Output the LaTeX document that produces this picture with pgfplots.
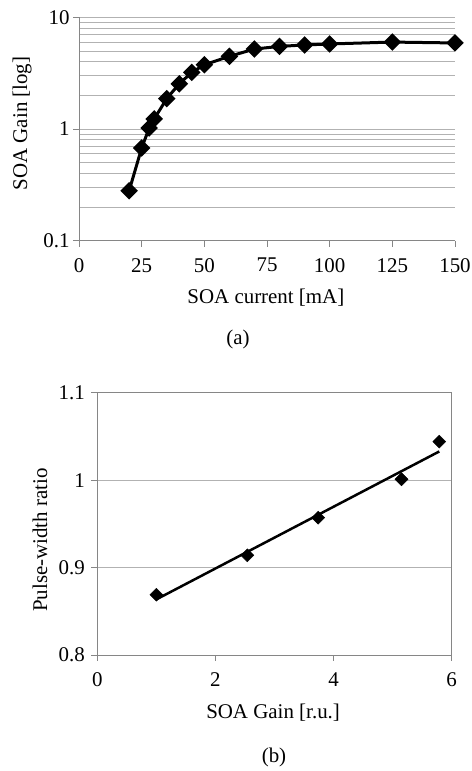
\documentclass[border=0pt]{standalone}
\usepackage{fontspec}
\setmainfont{Liberation Serif}
\usepackage{pgfplots}
\usepackage{pgfplotstable}
\pgfplotsset{compat=1.18}

\definecolor{gridgray}{RGB}{178,178,178}
\definecolor{axisgray}{RGB}{134,134,134}

\pgfplotstableread{
x y
20 0.28
25 0.676
28 1.02
30 1.23
35 1.87
40 2.54
45 3.21
50 3.76
60 4.47
70 5.2
80 5.49
90 5.65
100 5.77
125 6.0
150 5.89
}\gaindata

\pgfplotstableread{
x y
1.00 0.869
2.54 0.914
3.74 0.957
5.15 1.001
5.79 1.044
}\pwdata

\pgfplotsset{
  soa/.style={
    scale only axis,
    font=\fontsize{21}{25}\selectfont,
    tick label style={font=\fontsize{21}{25}\selectfont},
    label style={font=\fontsize{21}{25}\selectfont},
    /pgf/number format/assume math mode=true,
    tick align=outside,
    tick pos=left,
    major tick length=6bp,
    minor tick length=0pt,
    tick style={axisgray, line width=0.8bp},
    axis line style={axisgray, line width=0.8bp},
    grid style={gridgray, line width=0.8bp},
    xticklabel style={yshift=-8bp},
  }
}

\begin{document}
\begin{tikzpicture}[x=1bp,y=1bp]
\useasboundingbox (0,0) rectangle (472,771);

% (a) gain vs current
\begin{axis}[soa,
  at={(79bp,530.3bp)}, anchor=south west,
  width=376bp, height=223.4bp,
  ymode=log, ymin=0.1, ymax=10,
  xmin=0, xmax=150,
  xtick={0,25,...,150},
  ytick={0.1,1,10}, yticklabels={0.1,1,10},
  minor ytick={0.2,0.3,0.4,0.5,0.6,0.7,0.8,0.9,2,3,4,5,6,7,8,9},
  ymajorgrids, yminorgrids,
  axis x line*=bottom, axis y line*=left,
  xlabel={SOA current [mA]},
  ylabel={SOA Gain [log]},
  xlabel style={at={(axis description cs:0.497,-0.2565)}, anchor=center},
  ylabel style={at={(axis description cs:-0.1516,0.525)}, anchor=center},
  clip=false,
]
\addplot[black, line width=3bp, mark=square*, mark size=4.7bp,
  mark options={rotate=45, solid}] table[x=x, y=y] {\gaindata};
\end{axis}
\node[font=\fontsize{21}{25}\selectfont] at (238,432) {(a)};

% (b) pulse-width ratio vs gain
\begin{axis}[soa,
  at={(97.3bp,116bp)}, anchor=south west,
  width=354.4bp, height=262.3bp,
  xmin=0, xmax=6, ymin=0.8, ymax=1.1,
  xtick={0,2,4,6},
  ytick={0.8,0.9,1,1.1},
  yticklabels={0.8,0.9,1,1.1},
  yticklabel style={xshift=-3bp},
  ymajorgrids,
  xlabel={SOA Gain [r.u.]},
  ylabel={Pulse-width ratio},
  xlabel style={at={(axis description cs:0.496,-0.221)}, anchor=center},
  ylabel style={at={(axis description cs:-0.1617,0.438)}, anchor=center},
  clip=false,
]
\addplot[only marks, black, mark=square*, mark size=4.6bp,
  mark options={rotate=45}] table[x=x, y=y] {\pwdata};
\addplot[black, line width=2.5bp, no marks]
  table[x=x, y={create col/linear regression={y=y}}] {\pwdata};
\end{axis}
\node[font=\fontsize{21}{25}\selectfont] at (274,14) {(b)};
\end{tikzpicture}
\end{document}
